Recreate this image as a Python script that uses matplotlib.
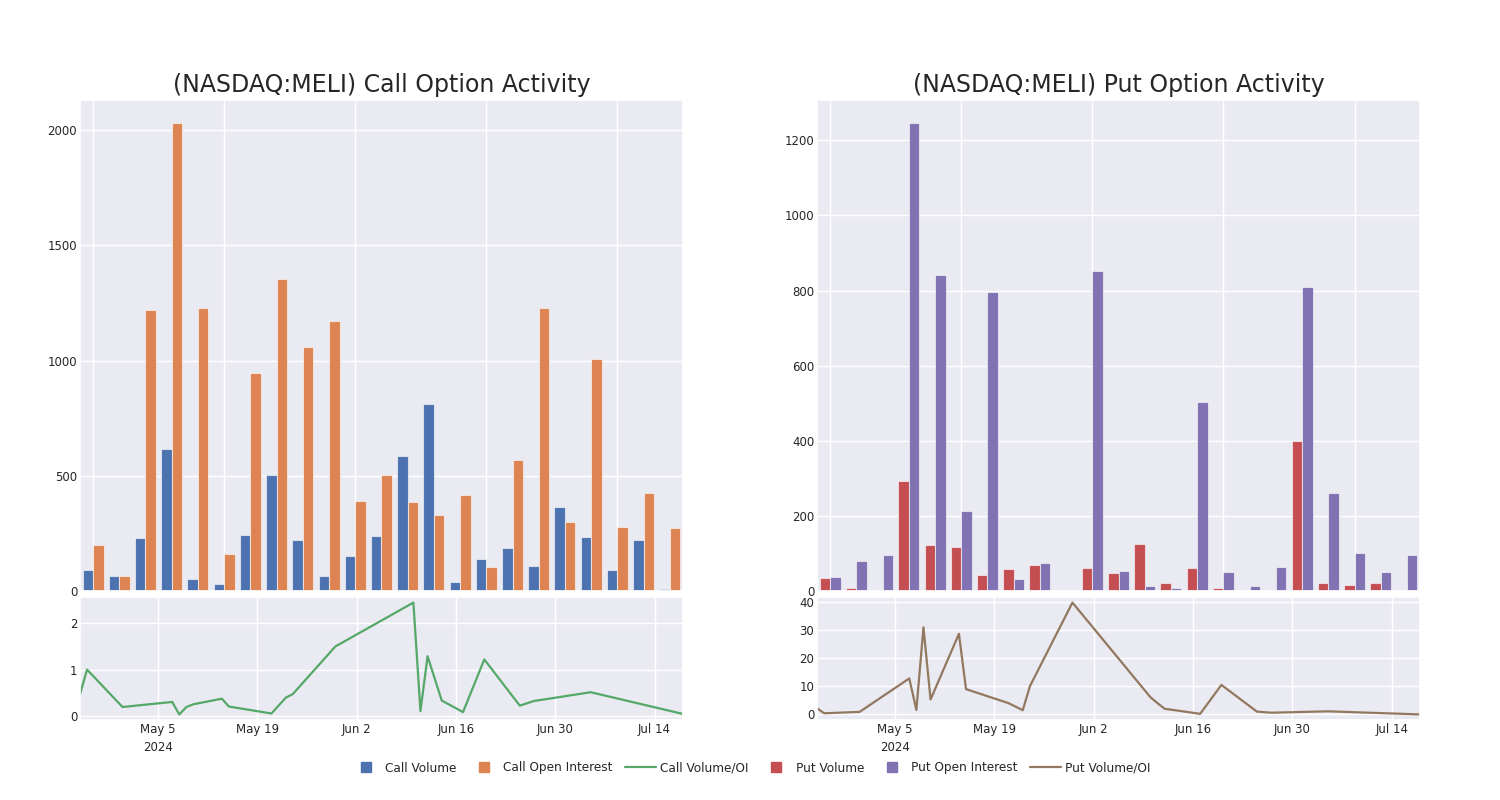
#!/usr/bin/env python3

import numpy as np
import pandas as pd
import matplotlib
matplotlib.use("Agg")
import matplotlib.pyplot as plt
import seaborn as sns
from matplotlib.lines import Line2D
from matplotlib.ticker import MultipleLocator

# trade dates (one bar group / one line vertex each)
dates = pd.to_datetime([
    "2024-04-24", "2024-04-25", "2024-04-30", "2024-05-07", "2024-05-08",
    "2024-05-09", "2024-05-10", "2024-05-14", "2024-05-15", "2024-05-21",
    "2024-05-23", "2024-05-24", "2024-05-30", "2024-06-10", "2024-06-11",
    "2024-06-12", "2024-06-14", "2024-06-17", "2024-06-20", "2024-06-25",
    "2024-06-27", "2024-07-05", "2024-07-18",
])

call_volume = [90, 65, 230, 615, 50, 30, 245, 505, 220, 65, 150, 240,
               585, 810, 40, 140, 185, 110, 365, 235, 90, 220, 10]
call_oi = [200, 65, 1220, 2030, 1230, 160, 945, 1355, 1060, 1170, 390, 505,
           385, 330, 415, 105, 570, 1230, 300, 1005, 280, 425, 275]
call_ratio = [0.46, 1.0, 0.19, 0.30, 0.03, 0.19, 0.25, 0.37, 0.20, 0.05,
              0.39, 0.47, 1.50, 2.45, 0.10, 1.29, 0.33, 0.08, 1.22, 0.22,
              0.32, 0.51, 0.04]

put_volume = [35, 8, 3, 292, 122, 118, 42, 58, 68, 3, 62, 48,
              125, 20, 60, 8, 0, 3, 400, 22, 15, 22, 0]
put_oi = [38, 80, 95, 1245, 840, 212, 795, 32, 75, 3, 852, 52,
          12, 8, 502, 50, 12, 65, 810, 262, 102, 50, 95]
put_ratio = [2.2, 0.4, 0.9, 12.8, 1.6, 31.0, 5.3, 28.7, 9.0, 4.0, 1.5,
             10.0, 39.8, 6.1, 4.0, 2.0, 1.3, 0.2, 10.5, 1.0, 0.6, 1.1, 0.0]

tick_dates = pd.to_datetime(["2024-05-05", "2024-05-19", "2024-06-02",
                             "2024-06-16", "2024-06-30", "2024-07-14"])
tick_labels = ["May 5\n2024", "May 19", "Jun 2", "Jun 16", "Jun 30", "Jul 14"]

sns.set_theme(style="darkgrid")
plt.rcParams["font.family"] = ["DejaVu Sans"]

pal = sns.color_palette("deep")
c_call_vol, c_call_oi, c_call_ratio = pal[0], pal[1], pal[2]
c_put_vol, c_put_oi, c_put_ratio = pal[3], pal[4], pal[5]

fig = plt.figure(figsize=(15, 8), dpi=100)


def draw_panel(left, title, volume, oi, ratio, c_vol, c_oi, c_ratio,
               bar_step, line_step):
    ax_bar = fig.add_axes([left, 0.26125, 0.402, 0.61375])
    ax_line = fig.add_axes([left, 0.1, 0.402, 0.15375])

    x = np.arange(len(dates))
    ax_bar.bar(x - 0.2, volume, 0.4, color=c_vol, edgecolor=(1, 1, 1, 0.6),
               linewidth=0.8)
    ax_bar.bar(x + 0.2, oi, 0.4, color=c_oi, edgecolor=(1, 1, 1, 0.6),
               linewidth=0.8)
    ax_bar.set_xlim(-0.5, len(dates) - 0.5)
    ax_bar.set_ylim(0, max(max(volume), max(oi)) * 1.05)
    ax_bar.set_xticks(np.arange(0, len(dates), 5))
    ax_bar.set_xticklabels([])
    ax_bar.yaxis.set_major_locator(MultipleLocator(bar_step))
    ax_bar.tick_params(axis="both", labelsize=8.5, length=0, pad=2)
    ax_bar.set_title(title, fontsize=17, pad=6)

    ax_line.plot(dates, ratio, color=c_ratio, linewidth=1.6)
    ax_line.set_xlim(dates[0], dates[-1])
    ax_line.set_xticks(tick_dates)
    ax_line.set_xticklabels(tick_labels, fontsize=8.5, linespacing=1.5)
    ax_line.yaxis.set_major_locator(MultipleLocator(line_step))
    ax_line.tick_params(axis="both", labelsize=8.5, length=0, pad=2)
    return ax_bar, ax_line


draw_panel(0.0533, "(NASDAQ:MELI) Call Option Activity", call_volume, call_oi,
           call_ratio, c_call_vol, c_call_oi, c_call_ratio, 500, 1)
draw_panel(0.5447, "(NASDAQ:MELI) Put Option Activity", put_volume, put_oi,
           put_ratio, c_put_vol, c_put_oi, c_put_ratio, 200, 10)

handles = [
    Line2D([], [], marker="s", linestyle="none", markersize=7, color=c_call_vol),
    Line2D([], [], marker="s", linestyle="none", markersize=7, color=c_call_oi),
    Line2D([], [], color=c_call_ratio, linewidth=1.6),
    Line2D([], [], marker="s", linestyle="none", markersize=7, color=c_put_vol),
    Line2D([], [], marker="s", linestyle="none", markersize=7, color=c_put_oi),
    Line2D([], [], color=c_put_ratio, linewidth=1.6),
]
labels = ["Call Volume", "Call Open Interest", "Call Volume/OI",
          "Put Volume", "Put Open Interest", "Put Volume/OI"]
fig.legend(handles, labels, loc="center", bbox_to_anchor=(0.5, 0.04), ncol=6,
           frameon=False, fontsize=8.7, handlelength=2.6, handletextpad=0.3,
           columnspacing=1.0)

fig.savefig("out.png", dpi=100)
